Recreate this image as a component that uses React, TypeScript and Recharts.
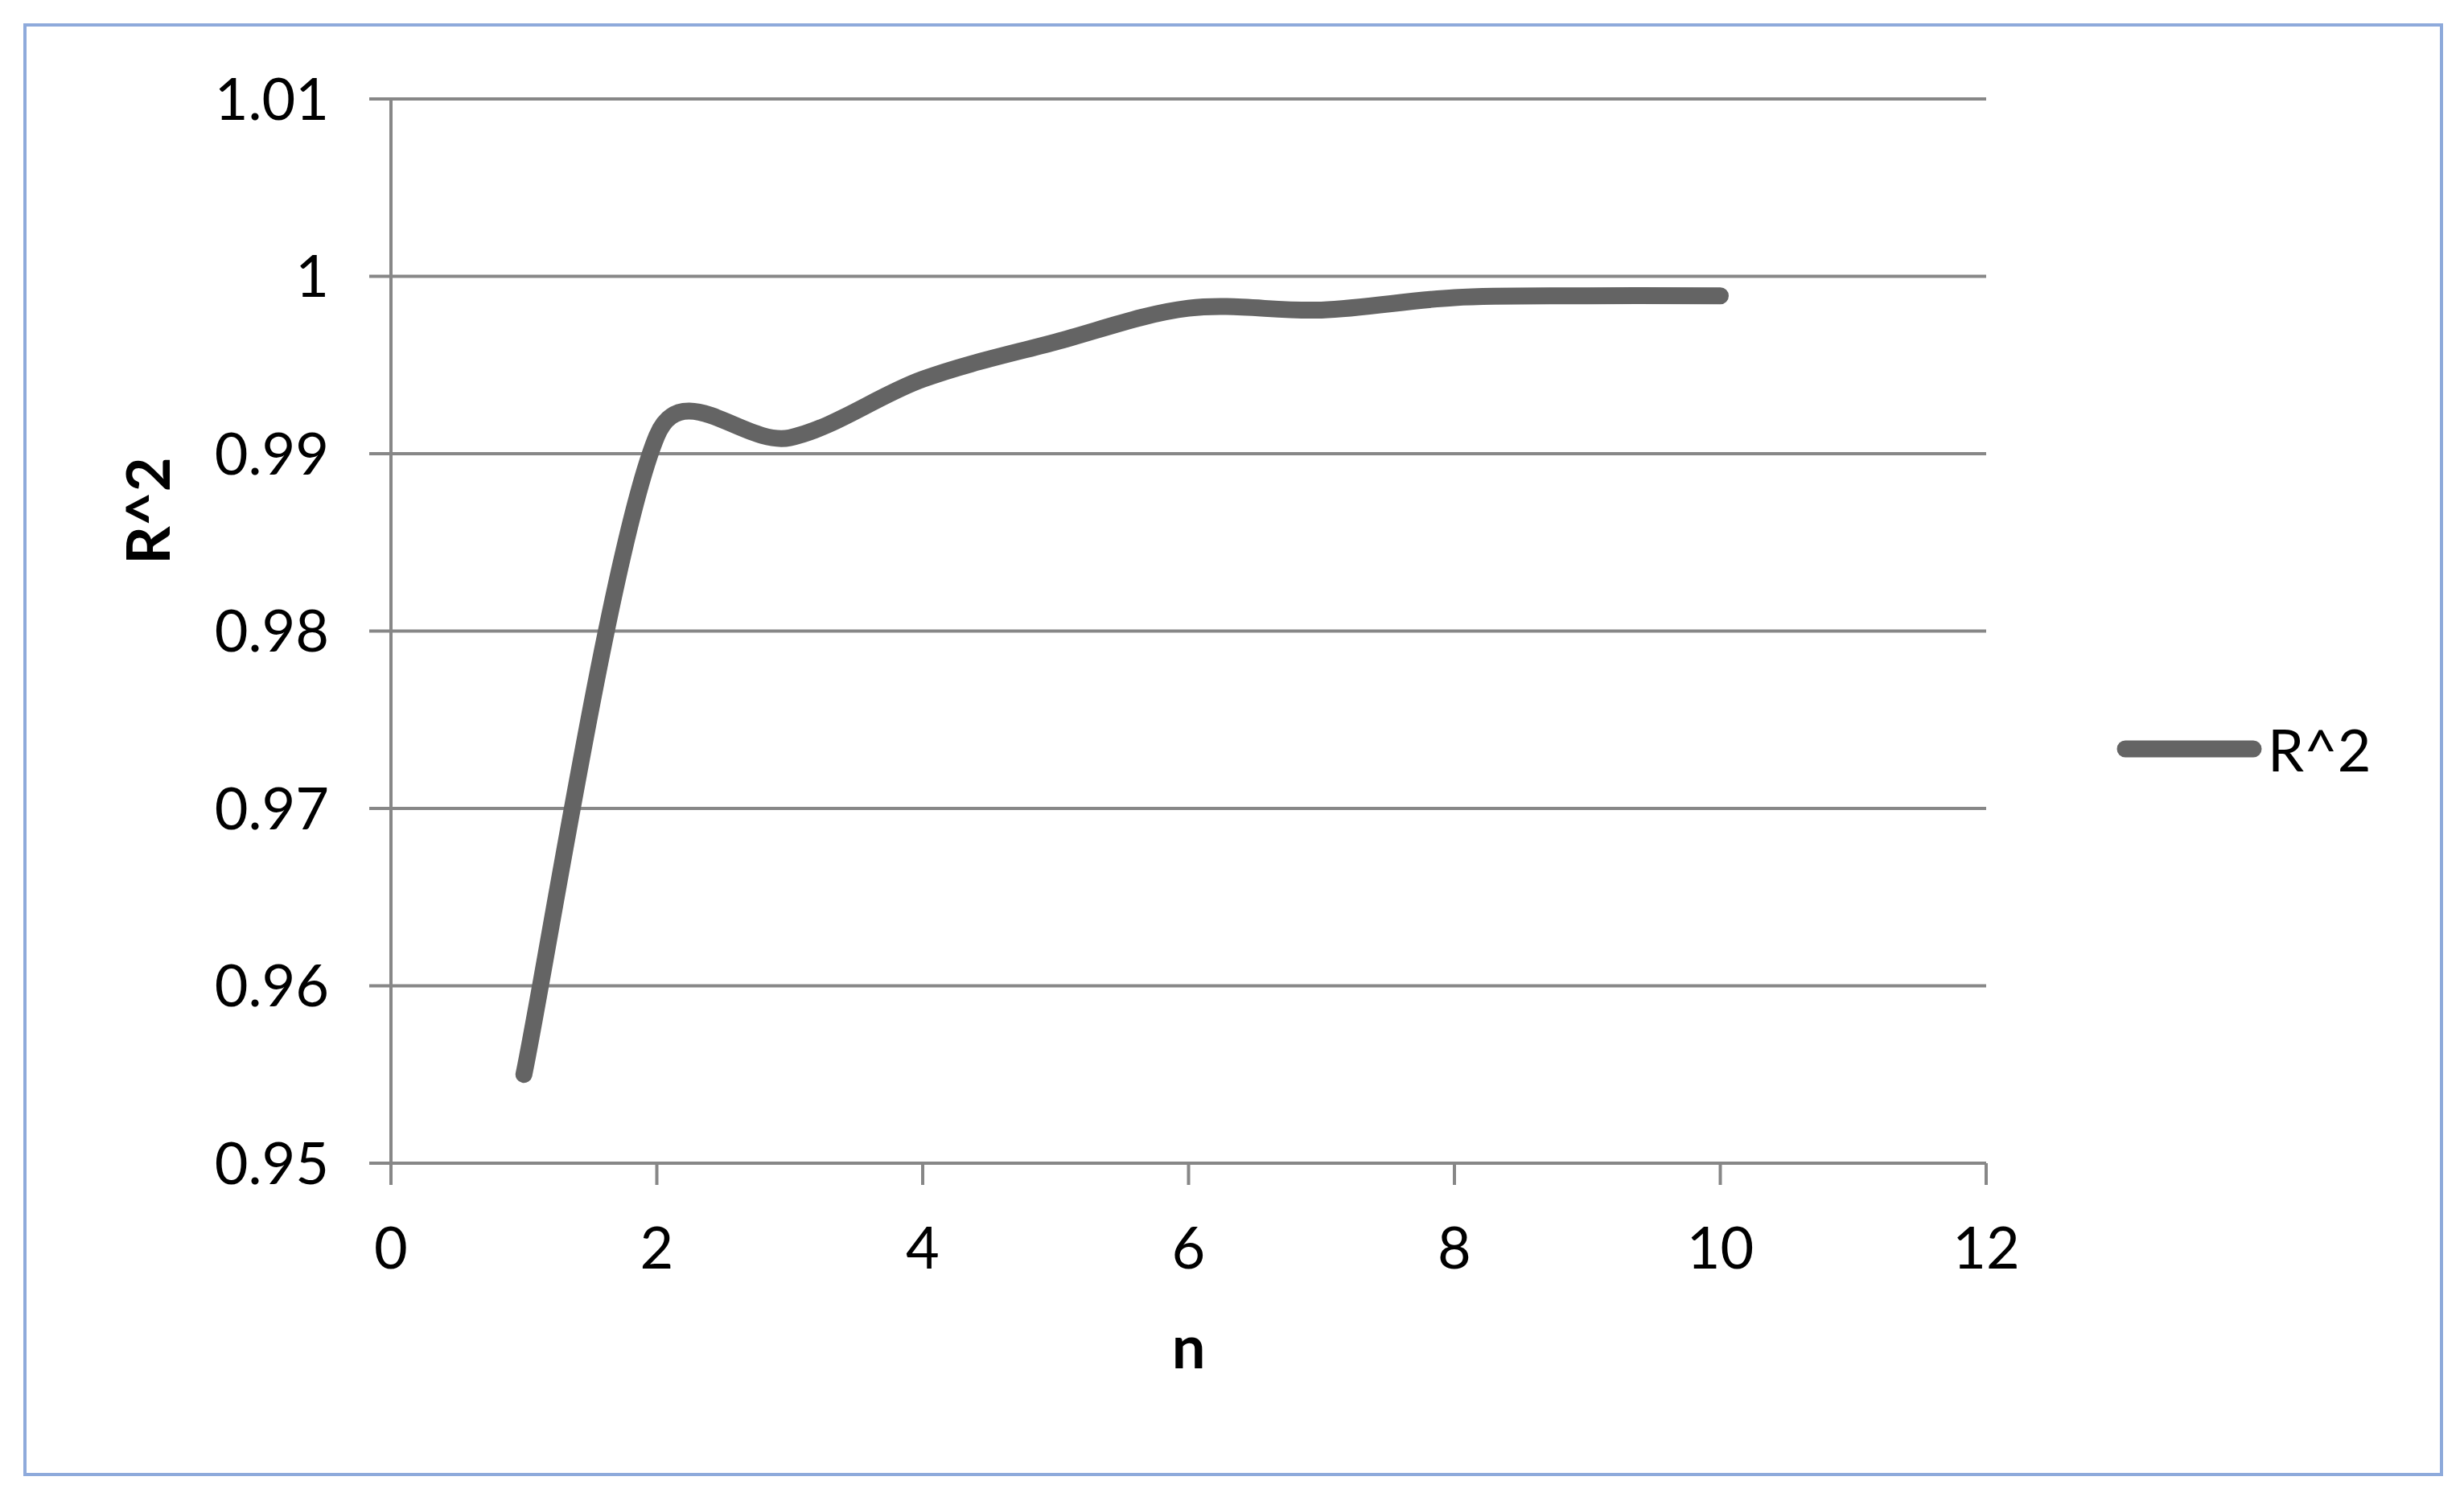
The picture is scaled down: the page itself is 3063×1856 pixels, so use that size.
import React from "react"
import { CartesianGrid, Legend, Line, LineChart, XAxis, YAxis } from "recharts"

const nValues = [1, 2, 3, 4, 5, 6, 7, 8, 9, 10]
const r2Values = [0.955, 0.991, 0.9909, 0.9942, 0.9963, 0.9982, 0.9981, 0.9988, 0.9989, 0.9989]
const xTicks = [0, 2, 4, 6, 8, 10, 12]
const yTicks = [0.95, 0.96, 0.97, 0.98, 0.99, 1, 1.01]

const data = nValues.map((n, i) => ({ n, r2: r2Values[i] }))

const FONT = "Lato, 'Open Sans', sans-serif"
const GRID = "#878787"
const LINE = "#646464"

// Excel-like smoothed line: bezier arms of 1/6 the neighbour span, clamped to half the segment
const excelCurve = (context: any) => {
  let pts: [number, number][] = []
  const dist = (a: number[], b: number[]) => Math.hypot(b[0] - a[0], b[1] - a[1])
  return {
    areaStart() {},
    areaEnd() {},
    lineStart() {
      pts = []
    },
    point(x: number, y: number) {
      pts.push([+x, +y])
    },
    lineEnd() {
      if (!pts.length) return
      context.moveTo(pts[0][0], pts[0][1])
      for (let i = 0; i < pts.length - 1; i++) {
        const p0 = pts[i - 1] ?? pts[i]
        const p1 = pts[i]
        const p2 = pts[i + 1]
        const p3 = pts[i + 2] ?? pts[i + 1]
        const d12 = dist(p1, p2)
        const d02 = dist(p0, p2)
        const d13 = dist(p1, p3)
        const f1 = d02 / 6 < d12 / 2 ? 1 / 6 : d12 / (2 * d02 || 1)
        const f2 = d13 / 6 < d12 / 2 ? 1 / 6 : d12 / (2 * d13 || 1)
        context.bezierCurveTo(
          p1[0] + f1 * (p2[0] - p0[0]),
          p1[1] + f1 * (p2[1] - p0[1]),
          p2[0] - f2 * (p3[0] - p1[0]),
          p2[1] - f2 * (p3[1] - p1[1]),
          p2[0],
          p2[1]
        )
      }
    },
  }
}

const renderLegend = (props: any) => {
  const item = props.payload?.[0]
  if (!item) return null
  return (
    <div style={{ display: "flex", alignItems: "center", fontFamily: FONT, fontSize: 72, lineHeight: "86px" }}>
      <svg width={188} height={30}>
        <line x1={11} y1={15} x2={170} y2={15} stroke={item.color} strokeWidth={21} strokeLinecap="round" />
      </svg>
      <span style={{ color: "#000" }}>{item.value}</span>
    </div>
  )
}

const yLabel = (props: any) => {
  const vb = props.viewBox
  const cx = vb.x + 182
  const cy = vb.y + 512
  return (
    <text x={cx} y={cy} transform={`rotate(-90, ${cx}, ${cy})`} textAnchor="middle" dominantBaseline="central"
      fontFamily={FONT} fontSize={74} fontWeight="bold" fill="#000">
      R^2
    </text>
  )
}

const xLabel = (props: any) => {
  const vb = props.viewBox
  return (
    <text x={vb.x + vb.width / 2} y={vb.y + 255} textAnchor="middle" fontFamily={FONT} fontSize={74} fontWeight="bold" fill="#000">
      n
    </text>
  )
}

export default function App() {
  return (
    <div style={{ position: "absolute", left: 0, top: 0, width: 3063, height: 1856, background: "#fff" }}>
      <div style={{ position: "absolute", left: 29, top: 29, width: 3000, height: 1798, border: "4px solid #8eaadb" }} />
      <LineChart width={3063} height={1856} data={data} margin={{ top: 123, right: 594, bottom: 0, left: 0 }}>
        <CartesianGrid vertical={false} stroke={GRID} strokeWidth={4} />
        <XAxis
          dataKey="n"
          type="number"
          domain={[0, 12]}
          ticks={xTicks}
          height={410}
          stroke={GRID}
          strokeWidth={4}
          tickSize={27}
          tickMargin={53}
          tick={{ fill: "#000", fontSize: 72, fontFamily: FONT }}
          label={{ content: xLabel }}
        />
        <YAxis
          type="number"
          domain={[0.95, 1.01]}
          ticks={yTicks}
          width={486}
          stroke={GRID}
          strokeWidth={4}
          tickSize={27}
          tickMargin={50}
          tickFormatter={(v: number) => String(+v.toFixed(2))}
          tick={{ fill: "#000", fontSize: 72, fontFamily: FONT }}
          label={{ content: yLabel }}
        />
        <Legend
          layout="horizontal"
          align="center"
          verticalAlign="middle"
          content={renderLegend}
          wrapperStyle={{ left: 2631, top: 888, width: 360 }}
        />
        <Line
          dataKey="r2"
          name="R^2"
          type={excelCurve as any}
          stroke={LINE}
          strokeWidth={21}
          strokeLinecap="round"
          dot={false}
          activeDot={false}
          isAnimationActive={false}
        />
      </LineChart>
    </div>
  )
}
